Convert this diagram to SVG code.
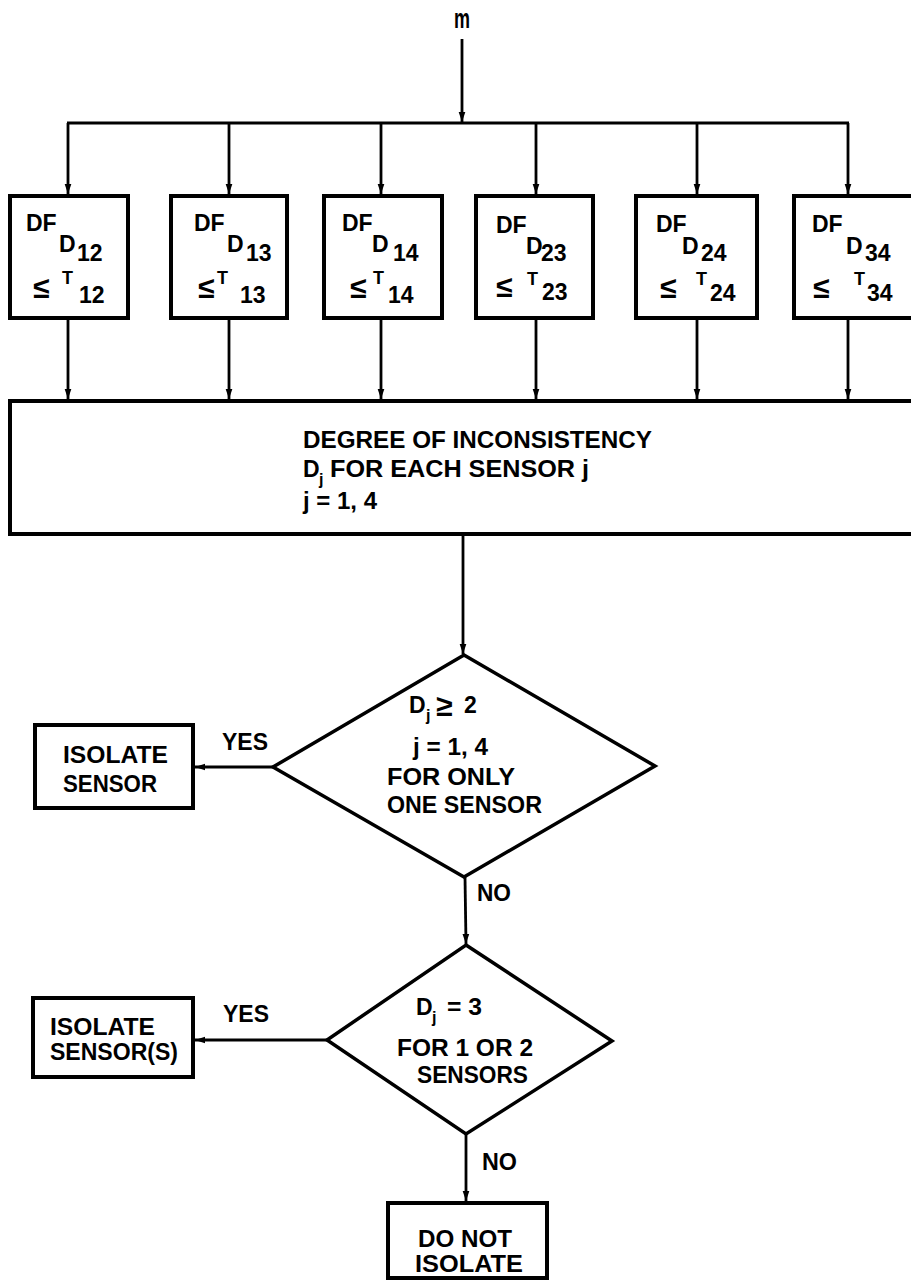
<svg xmlns="http://www.w3.org/2000/svg" width="911" height="1281" viewBox="0 0 911 1281">
<style>
.bx{fill:#fff;stroke:#000;stroke-width:4}
.dm{fill:#fff;stroke:#000;stroke-width:3.5;stroke-linejoin:miter}
.ln{fill:none;stroke:#000;stroke-width:2.8}
.t{font-family:"Liberation Sans",Arial,sans-serif;font-weight:bold;font-size:23px;fill:#000}
.s{font-family:"Liberation Sans",Arial,sans-serif;font-weight:bold;font-size:23px;fill:#000}
.le{font-family:"Liberation Sans",Arial,sans-serif;font-weight:bold;font-size:30px;fill:#000}
.sm{font-family:"Liberation Sans",Arial,sans-serif;font-weight:bold;font-size:18px;fill:#000}
.sj{font-family:"Liberation Sans",Arial,sans-serif;font-weight:bold;font-size:16px;fill:#000}
</style>
<defs>
<marker id="ah" markerWidth="10" markerHeight="15" refX="15" refY="5" viewBox="0 0 15 10" orient="auto" markerUnits="userSpaceOnUse">
<path d="M0,0 L15,5 L0,10 Z" fill="#000"/>
</marker>
</defs>

<g id="connectors">
<line class="ln" x1="462" y1="39" x2="462" y2="122" marker-end="url(#ah)"/>
<line class="ln" x1="67" y1="123" x2="849" y2="123"/>
<line class="ln" x1="68" y1="123" x2="68" y2="194" marker-end="url(#ah)"/>
<line class="ln" x1="229" y1="123" x2="229" y2="194" marker-end="url(#ah)"/>
<line class="ln" x1="381" y1="123" x2="381" y2="194" marker-end="url(#ah)"/>
<line class="ln" x1="536" y1="123" x2="536" y2="194" marker-end="url(#ah)"/>
<line class="ln" x1="697" y1="123" x2="697" y2="194" marker-end="url(#ah)"/>
<line class="ln" x1="848" y1="123" x2="848" y2="194" marker-end="url(#ah)"/>
<line class="ln" x1="68" y1="318" x2="68" y2="399" marker-end="url(#ah)"/>
<line class="ln" x1="229" y1="318" x2="229" y2="399" marker-end="url(#ah)"/>
<line class="ln" x1="381" y1="318" x2="381" y2="399" marker-end="url(#ah)"/>
<line class="ln" x1="536" y1="318" x2="536" y2="399" marker-end="url(#ah)"/>
<line class="ln" x1="697" y1="318" x2="697" y2="399" marker-end="url(#ah)"/>
<line class="ln" x1="848" y1="318" x2="848" y2="399" marker-end="url(#ah)"/>
<line class="ln" x1="463" y1="535" x2="463" y2="654" marker-end="url(#ah)"/>
<line class="ln" x1="273" y1="767" x2="195" y2="767" marker-end="url(#ah)"/>
<line class="ln" x1="465" y1="877" x2="466" y2="944" marker-end="url(#ah)"/>
<line class="ln" x1="327" y1="1040" x2="195" y2="1040" marker-end="url(#ah)"/>
<line class="ln" x1="466" y1="1134" x2="466" y2="1201" marker-end="url(#ah)"/>
<text class="t" x="222" y="750" textLength="46" lengthAdjust="spacingAndGlyphs">YES</text>
<text class="t" x="223" y="1022" textLength="46" lengthAdjust="spacingAndGlyphs">YES</text>
<text class="t" x="477" y="901" textLength="34" lengthAdjust="spacingAndGlyphs">NO</text>
<text class="t" x="482" y="1170" textLength="35" lengthAdjust="spacingAndGlyphs">NO</text>
</g>

<g id="input">
<text x="454" y="28" font-family="Liberation Sans,Arial,sans-serif" font-weight="bold" font-size="28" textLength="16" lengthAdjust="spacingAndGlyphs">m</text>
</g>

<g id="box12">
<rect class="bx" x="10" y="196" width="118" height="122"/>
<text class="s" x="26" y="231">DF</text>
<text class="s" x="59" y="252">D</text>
<text class="s" x="77" y="261">12</text>
<text class="le" x="33" y="298">≤</text>
<text class="sm" x="62" y="284">T</text>
<text class="s" x="79" y="303">12</text>
</g>
<g id="box13">
<rect class="bx" x="171" y="196" width="116" height="122"/>
<text class="s" x="194" y="231">DF</text>
<text class="s" x="227" y="252">D</text>
<text class="s" x="246" y="261">13</text>
<text class="le" x="198" y="298">≤</text>
<text class="sm" x="217" y="284">T</text>
<text class="s" x="240" y="303">13</text>
</g>
<g id="box14">
<rect class="bx" x="324" y="196" width="118" height="122"/>
<text class="s" x="342" y="231">DF</text>
<text class="s" x="372" y="252">D</text>
<text class="s" x="393" y="261">14</text>
<text class="le" x="350" y="298">≤</text>
<text class="sm" x="373" y="284">T</text>
<text class="s" x="388" y="303">14</text>
</g>
<g id="box23">
<rect class="bx" x="476" y="196" width="117" height="122"/>
<text class="s" x="496" y="233">DF</text>
<text class="s" x="526" y="254">D</text>
<text class="s" x="541" y="261">23</text>
<text class="le" x="496" y="297">≤</text>
<text class="sm" x="527" y="285">T</text>
<text class="s" x="542" y="300">23</text>
</g>
<g id="box24">
<rect class="bx" x="636" y="196" width="121" height="122"/>
<text class="s" x="656" y="232">DF</text>
<text class="s" x="682" y="254">D</text>
<text class="s" x="701" y="261">24</text>
<text class="le" x="660" y="298">≤</text>
<text class="sm" x="696" y="285">T</text>
<text class="s" x="710" y="301">24</text>
</g>
<g id="box34">
<rect class="bx" x="794" y="196" width="130" height="122"/>
<text class="s" x="812" y="232">DF</text>
<text class="s" x="846" y="254">D</text>
<text class="s" x="865" y="261">34</text>
<text class="le" x="813" y="298">≤</text>
<text class="sm" x="854" y="285">T</text>
<text class="s" x="867" y="301">34</text>
</g>

<g id="inconsistency">
<rect class="bx" x="10" y="401" width="915" height="133"/>
<text class="t" x="303" y="448" textLength="349" lengthAdjust="spacingAndGlyphs">DEGREE OF INCONSISTENCY</text>
<text class="t" x="303" y="477">D</text>
<text class="sj" x="319" y="485">j</text>
<text class="t" x="330" y="477" textLength="259" lengthAdjust="spacingAndGlyphs">FOR EACH SENSOR j</text>
<text class="t" x="303" y="509" textLength="74" lengthAdjust="spacingAndGlyphs">j = 1, 4</text>
</g>

<g id="decision1">
<polygon class="dm" points="464,655 655,766 464,877 273,767"/>
<text class="t" x="409" y="713">D</text>
<text class="sj" x="426" y="721">j</text>
<text class="le" x="436" y="716">≥</text>
<text class="t" x="464" y="713">2</text>
<text class="t" x="413" y="755" textLength="75" lengthAdjust="spacingAndGlyphs">j = 1, 4</text>
<text class="t" x="387" y="785" textLength="128" lengthAdjust="spacingAndGlyphs">FOR ONLY</text>
<text class="t" x="387" y="813" textLength="155" lengthAdjust="spacingAndGlyphs">ONE SENSOR</text>
</g>

<g id="isolate1">
<rect class="bx" x="35" y="725" width="158" height="83"/>
<text class="t" x="63" y="763" textLength="105" lengthAdjust="spacingAndGlyphs">ISOLATE</text>
<text class="t" x="63" y="792" textLength="94" lengthAdjust="spacingAndGlyphs">SENSOR</text>
</g>

<g id="decision2">
<polygon class="dm" points="466,945 612,1041 466,1134 327,1040"/>
<text class="t" x="416" y="1015">D</text>
<text class="sj" x="432" y="1023">j</text>
<text class="t" x="447" y="1015" textLength="35" lengthAdjust="spacingAndGlyphs">= 3</text>
<text class="t" x="397" y="1056" textLength="136" lengthAdjust="spacingAndGlyphs">FOR 1 OR 2</text>
<text class="t" x="417" y="1083" textLength="111" lengthAdjust="spacingAndGlyphs">SENSORS</text>
</g>

<g id="isolate2">
<rect class="bx" x="33" y="998" width="160" height="79"/>
<text class="t" x="50" y="1035" textLength="105" lengthAdjust="spacingAndGlyphs">ISOLATE</text>
<text class="t" x="50" y="1060" textLength="128" lengthAdjust="spacingAndGlyphs">SENSOR(S)</text>
</g>

<g id="donotisolate">
<rect class="bx" x="388" y="1203" width="159" height="75"/>
<text class="t" x="418" y="1247" textLength="94" lengthAdjust="spacingAndGlyphs">DO NOT</text>
<text class="t" x="415" y="1272" textLength="108" lengthAdjust="spacingAndGlyphs">ISOLATE</text>
</g>
</svg>
